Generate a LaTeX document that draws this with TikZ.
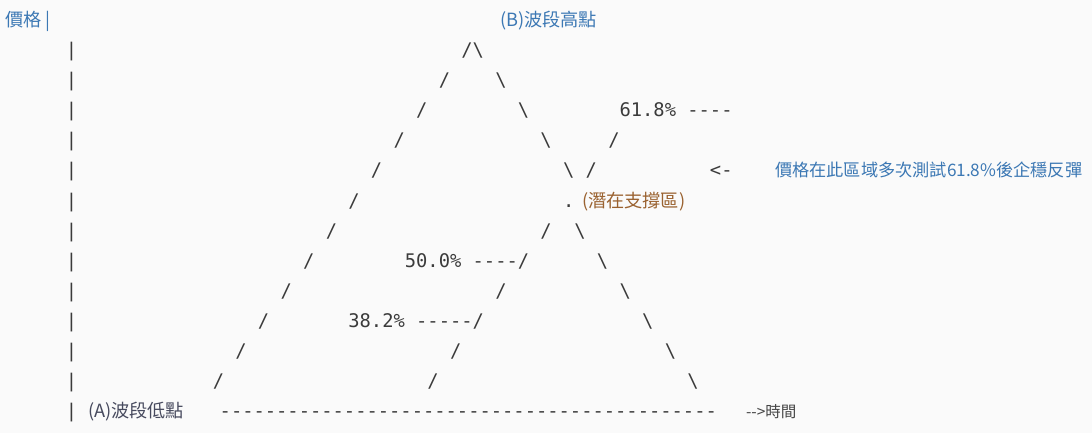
\documentclass[tikz,border=0pt]{standalone}
\usepackage{fontspec}
\newfontfamily\monof{DejaVu Sans Mono}
\newfontfamily\cjkf{Noto Sans CJK TC}
\definecolor{bgcol}{HTML}{FAFAFA}
\definecolor{asciigray}{HTML}{3B3B3B}
\definecolor{labelblue}{HTML}{3C78B4}
\definecolor{labelbrown}{HTML}{9A6230}
\definecolor{labelslate}{HTML}{474A5E}
\definecolor{timegray}{HTML}{454545}
\newcommand\bsl{\char92\relax}
\newcommand\asciinode[4]{\node[asc] (#1) at ({65.85+11.3*(#2)},{56.6+30.1*((#3)-1)}) {#4};}
\begin{document}
\begin{tikzpicture}[x=1bp,y=-1bp,
  asc/.style={anchor=base west, inner sep=0pt, outer sep=0pt, text=asciigray,
    font=\monof\fontsize{18.77bp}{20bp}\selectfont},
  lab/.style={anchor=base west, inner sep=0pt, outer sep=0pt,
    font=\cjkf\fontsize{18.2bp}{20bp}\selectfont},
  notelab/.style={anchor=base west, inner sep=0pt, outer sep=0pt,
    font=\cjkf\fontsize{17.2bp}{20bp}\selectfont},
  smalllab/.style={anchor=base west, inner sep=0pt, outer sep=0pt, text=timegray,
    font=\cjkf\fontsize{15.5bp}{17bp}\selectfont}]
\fill[bgcol] (0,0) rectangle (1092,433);
\useasboundingbox (0,0) rectangle (1092,433);

% top labels
\node[lab, text=labelblue] (ylab) at (5,27) {價格 |};
\node[lab, text=labelblue] (peak) at (500,27) {(B)波段高點};

% vertical axis bars
\foreach \r in {1,...,13} { \asciinode{bar\r}{0}{\r}{|} }

% left leg
\foreach \r in {1,...,12} { \asciinode{left\r}{35-2*(\r-1)}{\r}{/} }

% row 1
\asciinode{r1b}{36}{1}{\bsl}
% row 2
\asciinode{r2b}{38}{2}{\bsl}
% row 3
\asciinode{r3b}{40}{3}{\bsl}
\asciinode{fib618}{49}{3}{61.8\% ----}
% row 4
\asciinode{r4b}{42}{4}{\bsl}
\asciinode{r4c}{48}{4}{/}
% row 5
\asciinode{r5b}{44}{5}{\bsl}
\asciinode{r5c}{46}{5}{/}
\asciinode{r5arrow}{57}{5}{<-}
\node[notelab, text=labelblue] (note) at (775,177) {價格在此區域多次測試61.8\%後企穩反彈};
% row 6
\asciinode{r6dot}{44}{6}{.}
\node[lab, text=labelbrown] (support) at (582,207.1) {(潛在支撐區)};
% row 7
\asciinode{r7b}{42}{7}{/}
\asciinode{r7c}{45}{7}{\bsl}
% row 8
\asciinode{fib500}{30}{8}{50.0\%}
\asciinode{r8dash}{36}{8}{----/}
\asciinode{r8c}{47}{8}{\bsl}
% row 9
\asciinode{r9b}{38}{9}{/}
\asciinode{r9c}{49}{9}{\bsl}
% row 10
\asciinode{fib382}{25}{10}{38.2\%}
\asciinode{r10dash}{31}{10}{-----/}
\asciinode{r10c}{51}{10}{\bsl}
% row 11
\asciinode{r11b}{34}{11}{/}
\asciinode{r11c}{53}{11}{\bsl}
% row 12
\asciinode{r12b}{32}{12}{/}
\asciinode{r12c}{55}{12}{\bsl}

% bottom row
\node[lab, text=labelslate] (low) at (88,417.8) {(A)波段低點};
\node[asc] (timeaxis) at (219.7,417.8) {--------------------------------------------};
\node[smalllab] (timelab) at (746,417.8) {-->時間};
\end{tikzpicture}
\end{document}
